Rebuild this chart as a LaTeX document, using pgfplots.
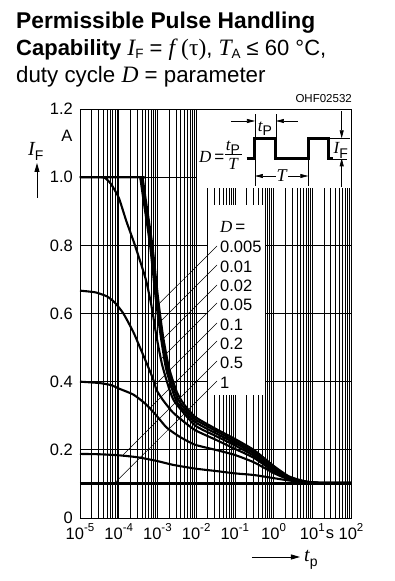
\documentclass[border=0pt]{standalone}
\usepackage{fontspec}
\setmainfont{Liberation Sans}
\newfontfamily\tmfont{Liberation Serif}
\usepackage{pgfplots}
\pgfplotsset{compat=1.18}
\usetikzlibrary{arrows.meta}

\newcommand\fs[1]{\fontsize{#1bp}{#1bp}\selectfont}
\newcommand\tv[1]{{\tmfont\itshape #1}}
\newcommand\tvb[1]{{\tmfont\itshape\fs{23.5}#1}}
\newcommand\ex[1]{\raisebox{0.45em}{\fs{11.5}#1}}
\newcommand\sub[1]{\raisebox{-0.25em}{\fs{14}#1}}
\newcommand\subt[1]{\raisebox{-0.11em}{\fs{13.5}#1}}

\begin{document}
\begin{tikzpicture}
\useasboundingbox (-80bp,-63bp) rectangle (315bp,518bp);
\begin{axis}[
  at={(0,0)}, anchor=south west,
  scale only axis, width=271bp, height=409bp,
  xmode=log, xmin=1e-5, xmax=1e2, ymin=0, ymax=1.2,
  xtick={1e-5,1e-4,1e-3,1e-2,1e-1,1,1e1,1e2},
  xticklabels={10\ex{-5},10\ex{-4},10\ex{-3},10\ex{-2},10\ex{-1},10\ex{0},10\ex{1},10\ex{2}},
  minor xtick={2e-5,3e-5,4e-5,5e-5,6e-5,7e-5,8e-5,9e-5,
               2e-4,3e-4,4e-4,5e-4,6e-4,7e-4,8e-4,9e-4,
               2e-3,3e-3,4e-3,5e-3,6e-3,7e-3,8e-3,9e-3,
               2e-2,3e-2,4e-2,5e-2,6e-2,7e-2,8e-2,9e-2,
               0.2,0.3,0.4,0.5,0.6,0.7,0.8,0.9,
               2,3,4,5,6,7,8,9,
               20,30,40,50,60,70,80,90},
  ytick={0,0.2,0.4,0.6,0.8,1.0,1.2},
  yticklabels={0,0.2,0.4,0.6,0.8,1.0,1.2},
  xmajorgrids, xminorgrids, ymajorgrids,
  major grid style={black, line width=0.7bp},
  minor grid style={black, line width=0.7bp},
  major tick length=0pt, minor tick length=0pt,
  axis line style={line width=0.8bp},
  tick label style={font=\fs{16.5}},
  yticklabel style={anchor=east, inner sep=0pt, xshift=-7bp},
  xticklabel style={anchor=base, inner sep=0pt, yshift=-21bp},
  curve/.style={black, solid, line width=2.1bp, mark=none, smooth, tension=0.35},
]
% D = 1
\addplot[black, solid, mark=none, line width=2.8bp, sharp plot] coordinates {(1e-5,0.102) (1e2,0.102)};
% D = 0.5
\addplot[curve] coordinates {(1e-5,0.188) (3.16e-5,0.187) (1e-4,0.184) (3.16e-4,0.178) (1e-3,0.167)
 (2.51e-3,0.156) (9.33e-3,0.145) (3.16e-2,0.138) (0.1,0.131) (0.316,0.126) (1,0.117)
 (2.51,0.110) (6.31,0.105) (15.8,0.103) (100,0.103)};
% D = 0.2
\addplot[curve] coordinates {(1e-5,0.400) (3.16e-5,0.396) (6.31e-5,0.390) (1e-4,0.380) (2.40e-4,0.362)
 (5.01e-4,0.334) (9.55e-4,0.300) (1.74e-3,0.265) (3.80e-3,0.238) (9.33e-3,0.215)
 (3.16e-2,0.200) (0.1,0.185) (0.316,0.163) (1,0.132) (2.51,0.113) (6.31,0.105) (15.8,0.103) (100,0.103)};
% D = 0.1
\addplot[curve] coordinates {(1e-5,0.667) (2.51e-5,0.662) (5.01e-5,0.650) (7.94e-5,0.632) (1.32e-4,0.600)
 (2.40e-4,0.545) (3.55e-4,0.500) (5.01e-4,0.460) (7.59e-4,0.410) (9.55e-4,0.375)
 (1.41e-3,0.345) (2.40e-3,0.312) (3.80e-3,0.292) (9.33e-3,0.258) (3.16e-2,0.230)
 (0.1,0.203) (0.316,0.176) (1,0.137) (2.51,0.115) (6.31,0.106) (15.8,0.103) (100,0.103)};
% D = 0.05
\addplot[curve] coordinates {(1e-5,1.0) (3.5e-5,1.0) (4.5e-5,0.997) (6.31e-5,0.98) (1e-4,0.94) (1.585e-4,0.87)
 (2.63e-4,0.80) (5.01e-4,0.70) (7.08e-4,0.62) (9.55e-4,0.53) (1.32e-3,0.45) (2.00e-3,0.38)
 (2.82e-3,0.340) (9.33e-3,0.272) (3.16e-2,0.241) (0.1,0.213) (0.316,0.182) (1,0.140)
 (2.51,0.117) (6.31,0.106) (15.8,0.103) (100,0.103)};
% D = 0.02
\addplot[curve] coordinates {(1e-5,1.0) (3.3e-4,1.0) (3.63e-4,0.995) (4.27e-4,0.94) (6.46e-4,0.80) (9.12e-4,0.64)
 (1.23e-3,0.53) (1.66e-3,0.44) (2.51e-3,0.37) (3.39e-3,0.336) (9.33e-3,0.282) (3.16e-2,0.249)
 (0.1,0.220) (0.316,0.188) (1,0.144) (2.51,0.118) (6.31,0.107) (15.8,0.103) (100,0.103)};
% D = 0.01
\addplot[curve] coordinates {(1e-5,1.0) (3.55e-4,1.0) (3.89e-4,0.995) (4.57e-4,0.94) (6.92e-4,0.80) (9.77e-4,0.64)
 (1.32e-3,0.53) (1.82e-3,0.44) (2.82e-3,0.37) (3.98e-3,0.336) (9.33e-3,0.290) (3.16e-2,0.256)
 (0.1,0.226) (0.316,0.193) (1,0.148) (2.51,0.120) (6.31,0.107) (15.8,0.103) (100,0.103)};
% D = 0.005
\addplot[curve] coordinates {(1e-5,1.0) (3.8e-4,1.0) (4.17e-4,0.995) (4.90e-4,0.94) (7.41e-4,0.80) (1.05e-3,0.64)
 (1.41e-3,0.53) (2.00e-3,0.44) (3.16e-3,0.37) (4.68e-3,0.336) (9.33e-3,0.297) (3.16e-2,0.262)
 (0.1,0.232) (0.316,0.199) (1,0.153) (2.51,0.122) (6.31,0.108) (15.8,0.103) (100,0.103)};
\end{axis}

\begin{scope}[x=1bp,y=-1bp,shift={(-80bp,518bp)}]
% white panels
\fill[white] (197,109) rectangle (351,188);
\fill[white] (208,205) rectangle (265,395);
\draw[line width=0.8bp] (80,109) rectangle (351,518);

% title
\node[anchor=base west, inner sep=0] at (16,28.5) {\fs{22.8}\bfseries Permissible Pulse Handling};
\node[anchor=base west, inner sep=0] at (16,56) {\fs{22}\textbf{Capability} \tvb{I}\subt{F} = \tvb{f} {\tmfont\fs{23.5}(τ)}, \tvb{T}\subt{A} ≤ 60 °C,};
\node[anchor=base west, inner sep=0] at (16,83) {\fs{22.3}duty cycle \tvb{D} = parameter};
\node[anchor=base east, inner sep=0] at (352,103) {\fs{11.5}OHF02532};

% axis annotations
\node[anchor=base east, inner sep=0] at (72.5,142) {\fs{16.5}A};
\node[anchor=base west, inner sep=0] at (28,156) {\fs{20}\tv{I}\sub{F}};
\draw[line width=0.8bp, -{Triangle[length=9bp,width=5bp]}] (37,198) -- (37,163);
\draw[line width=0.8bp, -{Triangle[length=9bp,width=5bp]}] (252,557) -- (300,557);
\node[anchor=base west, inner sep=0] at (304,562) {\fs{20}\tv{t}\sub{p}};
\node[anchor=base, inner sep=0] at (330,539) {\fs{16.5}s};

% parameter labels
\node[anchor=base west, inner sep=0] at (220,233) {\fs{17}\tv{D}\,=};
\foreach \t [count=\i from 0] in {0.005,0.01,0.02,0.05,0.1,0.2,0.5,1}{
  \node[anchor=base west, inner sep=0] at (220,{253+19.3*\i}) {\fs{16.5}\t};
}
\draw[line width=0.5bp] (217,246) -- (158.8,304);
\draw[line width=0.5bp] (217,265) -- (160,322);
\draw[line width=0.5bp] (217,285) -- (161.4,340.6);
\draw[line width=0.5bp] (217,303) -- (160.9,359.1);
\draw[line width=0.5bp] (217,323) -- (155,385);
\draw[line width=0.5bp] (217,341) -- (149.7,408.3);
\draw[line width=0.5bp] (217,361) -- (122.3,455.7);
\draw[line width=0.5bp] (217,381) -- (114.8,483);

% inset: pulse diagram
\node[anchor=base west, inner sep=0] at (199,163) {\fs{17}\tv{D}\,=};
\node[anchor=base, inner sep=0] at (233,150.5) {\fs{17}\tv{t}\sub{P}};
\draw[line width=0.7bp] (225,154.5) -- (242,154.5);
\node[anchor=base, inner sep=0] at (233,169.5) {\fs{17}\tv{T}};
\draw[line width=3bp, miter limit=4] (246.7,158.3) -- (255,158.3) -- (255,138.3) -- (276,138.3) -- (276,158.3)
  -- (308.3,158.3) -- (308.3,138.3) -- (328.3,138.3) -- (328.3,158.3) -- (346.7,158.3);
% tp dimension
\draw[line width=0.7bp] (255,137) -- (255,114);
\draw[line width=0.7bp] (276,137) -- (276,114);
\draw[line width=0.7bp, -{Triangle[length=8bp,width=4bp]}] (231,121) -- (255,121);
\draw[line width=0.7bp, -{Triangle[length=8bp,width=4bp]}] (298,121) -- (276,121);
\node[anchor=base, inner sep=0] at (265,131.5) {\fs{17}\tv{t}\sub{P}};
% T dimension
\draw[line width=0.7bp] (255,160) -- (255,186);
\draw[line width=0.7bp] (308.3,160) -- (308.3,186);
\draw[line width=0.7bp, {Triangle[length=8bp,width=4bp]}-{Triangle[length=8bp,width=4bp]}] (255,176) -- (308.3,176);
\node[anchor=base, inner sep=1bp, fill=white] at (281.7,182) {\fs{18}\tv{T}};
% IF dimension
\draw[line width=0.7bp] (328.3,138.3) -- (350,138.3);
\draw[line width=0.7bp, -{Triangle[length=8bp,width=4bp]}] (341.7,111.5) -- (341.7,138.3);
\draw[line width=0.7bp, -{Triangle[length=8bp,width=4bp]}] (341.7,187) -- (341.7,158.3);
\node[anchor=base west, inner sep=0.5bp, fill=white] at (333,154) {\fs{17}\tv{I}\sub{F}};
\end{scope}
\end{tikzpicture}
\end{document}
